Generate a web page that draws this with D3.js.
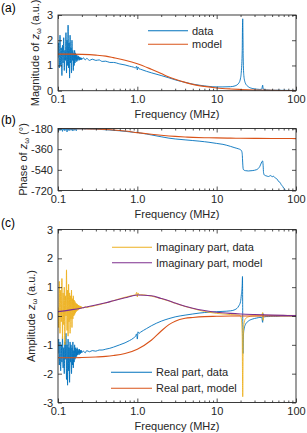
<!DOCTYPE html>
<html><head><meta charset="utf-8">
<script src="https://cdn.jsdelivr.net/npm/d3@7"></script>
<style>body{margin:0;background:#fff} svg{display:block;font-family:Arial,"Liberation Sans",sans-serif}</style>
</head><body><svg id="c" width="307" height="433"></svg>
<script>
// ---------------- DATA ----------------
const xTickValues = [0.1, 1, 10, 100];
const xTickLabels = ["0.1", "1.0", "10", "100"];
const xMinorTicks = [0.2,0.3,0.4,0.5,0.6,0.7,0.8,0.9, 2,3,4,5,6,7,8,9, 20,30,40,50,60,70,80,90];

const magTicks = [0, 1, 2, 3];
const magTickLabels = ["0", "1", "2", "3"];
const phaseTicks = [-720, -540, -360, -180];
const phaseTickLabels = ["-720", "-540", "-360", "-180"];
const ampTicks = [-3, -2, -1, 0, 1, 2, 3];
const ampTickLabels = ["-3", "-2", "-1", "0", "1", "2", "3"];

// noisy low-frequency region of the measured data (MHz)
const noiseFreq = [
 0.100,0.102,0.104,0.106,0.108,0.110,0.112,0.114,0.116,0.118,
 0.120,0.122,0.124,0.126,0.128,0.130,0.132,0.134,0.136,0.138,
 0.140,0.142,0.144,0.146,0.148,0.150,0.152,0.154,0.156,0.158,
 0.160,0.162,0.164,0.166,0.168,0.170,0.172,0.174,0.176,0.178,
 0.180,0.182,0.184,0.186,0.188,0.190,0.192,0.194,0.196,0.198,
 0.200];
const magNoise = [
 1.3,1.9,0.9,2.2,1.0,1.7,0.6,1.8,1.1,2.1,
 0.8,1.6,1.2,2.3,0.7,2.0,1.0,2.6,0.9,1.9,
 0.5,2.2,1.1,1.7,0.7,2.0,1.2,1.6,0.8,1.5,
 1.0,1.6,1.1,1.5,1.2,1.45,1.15,1.4,1.2,1.35,
 1.25,1.38,1.2,1.33,1.22,1.32,1.24,1.3,1.22,1.3,
 1.25];
const phaseNoise = [
 -184,-192,-183,-198,-185,-190,-183,-205,-186,-193,
 -184,-200,-185,-191,-183,-210,-186,-194,-184,-199,
 -185,-190,-183,-196,-185,-192,-184,-202,-186,-190,
 -184,-195,-185,-189,-183,-200,-185,-187,-184,-186,
 -184,-185,-184,-185,-184,-185,-184,-185,-184,-184,
 -184];
const realNoise = [
 -1.3,-0.8,-1.7,-0.9,-1.9,-1.0,-1.6,-0.7,-1.8,-1.1,
 -2.0,-0.9,-1.5,-0.6,-2.2,-1.0,-2.4,-0.8,-1.9,-1.1,
 -2.3,-0.9,-1.6,-1.0,-2.0,-1.1,-1.7,-0.9,-1.8,-1.2,
 -1.6,-1.0,-1.5,-1.1,-1.45,-1.15,-1.4,-1.1,-1.35,-1.15,
 -1.3,-1.2,-1.35,-1.15,-1.3,-1.2,-1.3,-1.18,-1.28,-1.2,
 -1.26];
const imagNoise = [
 0.3,-0.4,1.2,-0.6,0.9,-0.2,1.3,-0.8,0.8,-0.3,
 1.0,-1.0,0.7,0.0,1.6,-0.5,0.9,-0.7,1.1,-0.2,
 0.8,-0.6,0.7,-0.1,0.9,-0.4,0.6,-0.1,0.7,0.0,
 0.55,0.05,0.5,0.1,0.45,0.15,0.42,0.18,0.4,0.2,
 0.38,0.22,0.36,0.24,0.35,0.26,0.34,0.26,0.33,0.27,
 0.3];

// measured data above the noisy region (MHz)
const dataFreq = [
 0.21,0.22,0.23,0.25,0.27,0.3,0.33,0.36,0.4,0.45,
 0.5,0.6,0.7,0.8,0.9,0.95,0.98,1.0,1.02,1.05,
 1.1,1.3,1.5,2,2.5,3,4,5,6,7,
 8,10,12,15,17,19,20,20.5,21,21.15,
 21.3,21.45,21.6,22,23,25,28,32,35,37,
 38,38.5,39,40,42,45,48,50,52,55,
 58,60,63,65,68,70,73,75,80,90,
 100];
const magData = [
 1.3,1.22,1.28,1.2,1.25,1.2,1.22,1.16,1.17,1.12,
 1.12,1.06,1.02,0.97,0.93,0.9,0.97,0.82,0.94,0.87,
 0.85,0.77,0.71,0.6,0.51,0.43,0.33,0.26,0.22,0.19,
 0.17,0.15,0.15,0.16,0.19,0.3,0.5,0.8,1.6,2.5,
 2.85,2.2,1.3,0.6,0.3,0.16,0.09,0.06,0.05,0.06,
 0.22,0.1,0.05,0.04,0.03,0.03,0.02,0.02,0.02,0.02,
 0.02,0.02,0.02,0.015,0.015,0.015,0.015,0.015,0.01,0.01,
 0.01];
const phaseData = [
 -184,-186,-184,-185,-186,-186,-188,-189,-191,-193,
 -196,-200,-205,-209,-213,-215,-212,-220,-214,-218,
 -220,-228,-236,-252,-264,-271,-279,-285,-290,-295,
 -300,-310,-318,-336,-348,-358,-365,-372,-400,-440,
 -480,-515,-532,-542,-547,-550,-547,-538,-510,-472,
 -462,-500,-565,-586,-592,-598,-590,-600,-596,-612,
 -622,-640,-650,-668,-685,-700,-712,-728,-760,-800,
 -850];
const realData = [
 -1.22,-1.28,-1.2,-1.24,-1.2,-1.22,-1.18,-1.18,-1.15,-1.12,
 -1.08,-1.0,-0.93,-0.85,-0.76,-0.7,-0.62,-0.8,-0.55,-0.6,
 -0.56,-0.44,-0.34,-0.18,-0.09,-0.03,0.03,0.07,0.1,0.12,
 0.13,0.15,0.16,0.18,0.22,0.35,0.5,0.75,1.1,1.37,
 0.0,-1.3,-0.9,-0.5,-0.3,-0.18,-0.11,-0.07,-0.05,-0.05,
 -0.22,0.08,-0.04,-0.03,-0.02,-0.02,-0.01,-0.01,-0.01,-0.01,
 -0.01,-0.01,0,0,0,0,0,0,0,0,
 0];
const imagData = [
 0.28,0.33,0.29,0.32,0.33,0.37,0.39,0.42,0.45,0.49,
 0.53,0.6,0.65,0.69,0.72,0.73,0.82,0.66,0.8,0.73,
 0.74,0.72,0.69,0.6,0.52,0.44,0.33,0.26,0.2,0.16,
 0.13,0.09,0.07,0.05,0.04,0.03,0.0,-0.1,-0.7,-1.9,
 -2.8,-1.9,-0.8,-0.3,-0.1,-0.03,0.0,0.01,0.01,0.02,
 0.12,-0.15,0.02,0.02,0.02,0.02,0.02,0.02,0.02,0.02,
 0.02,0.02,0.02,0.02,0.02,0.02,0.02,0.02,0.02,0.02,
 0.02];

// model curves (MHz)
const modelFreq = [0.1,0.15,0.2,0.3,0.4,0.5,0.7,1,1.5,2,2.5,3,4,5,7,10,15,20,30,50,70,100];
const magModel  = [1.45,1.45,1.44,1.41,1.37,1.31,1.21,1.07,0.85,0.68,0.54,0.45,0.33,0.25,0.17,0.11,0.07,0.05,0.03,0.015,0.01,0.005];
const phaseModel= [-180,-181,-182,-185,-189,-193,-202,-216,-230,-239,-245,-249,-254,-257,-260,-262,-264,-265,-266,-267,-267,-268];
const realModel = [-1.45,-1.45,-1.44,-1.42,-1.40,-1.37,-1.30,-1.15,-0.84,-0.52,-0.30,-0.18,-0.08,-0.05,-0.02,-0.01,0,0,0,0,0,0];
const imagModel = [0.15,0.22,0.28,0.38,0.46,0.53,0.63,0.73,0.70,0.61,0.53,0.45,0.34,0.27,0.19,0.13,0.09,0.07,0.05,0.03,0.02,0.015];

// ---------------- DRAWING ----------------
const C = {blue:"#0072BD", orange:"#D95319", yellow:"#EDB120", purple:"#7E2F8E", axis:"#262626"};
const svg = d3.select("#c");
const L = 58, R = 296;
const x = d3.scaleLog().domain([0.1, 100]).range([L, R]);

function pts(fs, vs){ return fs.map((f,i)=>[f, vs[i]]); }
const magSeries   = pts(noiseFreq, magNoise).concat(pts(dataFreq, magData));
const phaseSeries = pts(noiseFreq, phaseNoise).concat(pts(dataFreq, phaseData));
const realSeries  = pts(noiseFreq, realNoise).concat(pts(dataFreq, realData));
const imagSeries  = pts(noiseFreq, imagNoise).concat(pts(dataFreq, imagData));

function panel(cfg){
  const y = d3.scaleLinear().domain(cfg.domain).range([cfg.bottom, cfg.top]);
  const g = svg.append("g");
  const id = "clip" + cfg.tag;
  svg.append("clipPath").attr("id", id).append("rect")
    .attr("x", L).attr("y", cfg.top).attr("width", R-L).attr("height", cfg.bottom-cfg.top);
  const plot = g.append("g").attr("clip-path", `url(#${id})`);
  const line = d3.line().x(d=>x(d[0])).y(d=>y(d[1])).curve(d3.curveMonotoneX);
  cfg.series.forEach(s=>{
    plot.append("path").attr("d", line(s.data)).attr("fill","none")
      .attr("stroke", s.color).attr("stroke-width", s.w).attr("stroke-linejoin","round");
  });
  // axes
  const styleAx = sel => { sel.select(".domain").remove(); sel.selectAll("line").attr("stroke", C.axis).attr("stroke-width",0.8);
    sel.selectAll("text").attr("fill", C.axis).attr("font-size", 11).attr("font-family","Arial, 'Liberation Sans', sans-serif"); };
  g.append("g").attr("transform",`translate(0,${cfg.bottom})`)
    .call(d3.axisBottom(x).tickValues(xTickValues).tickFormat((d,i)=>xTickLabels[i]).tickSizeInner(-4).tickSizeOuter(0).tickPadding(4.5)).call(styleAx);
  g.append("g").attr("transform",`translate(0,${cfg.bottom})`)
    .call(d3.axisBottom(x).tickValues(xMinorTicks).tickFormat("").tickSizeInner(-2).tickSizeOuter(0)).call(styleAx);
  g.append("g").attr("transform",`translate(0,${cfg.top})`)
    .call(d3.axisTop(x).tickValues(xTickValues).tickFormat("").tickSizeInner(-4).tickSizeOuter(0)).call(styleAx);
  g.append("g").attr("transform",`translate(0,${cfg.top})`)
    .call(d3.axisTop(x).tickValues(xMinorTicks).tickFormat("").tickSizeInner(-2).tickSizeOuter(0)).call(styleAx);
  g.append("g").attr("transform",`translate(${L},0)`)
    .call(d3.axisLeft(y).tickValues(cfg.ticks).tickFormat((d,i)=>cfg.tickLabels[i]).tickSizeInner(-4).tickSizeOuter(0).tickPadding(5)).call(styleAx);
  g.append("g").attr("transform",`translate(${R},0)`)
    .call(d3.axisRight(y).tickValues(cfg.ticks).tickFormat("").tickSizeInner(-4).tickSizeOuter(0)).call(styleAx);
  g.append("rect").attr("x", L).attr("y", cfg.top).attr("width", R-L).attr("height", cfg.bottom-cfg.top)
    .attr("fill","none").attr("stroke", C.axis).attr("stroke-width", 0.9);
  // x label
  g.append("text").attr("x", (L+R)/2).attr("y", cfg.bottom+27).attr("text-anchor","middle")
    .attr("font-size", 11).attr("fill", C.axis).text("Frequency (MHz)");
  // y label
  const yl = g.append("text").attr("transform", `translate(${cfg.ylx},${(cfg.top+cfg.bottom)/2}) rotate(-90)`)
    .attr("text-anchor","middle").attr("dy","0.35em").attr("font-size", 11).attr("fill", C.axis);
  yl.append("tspan").text(cfg.yl[0]);
  yl.append("tspan").attr("font-style","italic").text("z");
  yl.append("tspan").attr("font-size", 7.5).attr("dy", 2.5).text("ω");
  yl.append("tspan").attr("dy", -2.5).text(cfg.yl[1]);
  // panel tag
  svg.append("text").attr("x", 1).attr("y", cfg.tagY).attr("font-size", 12).attr("fill","#000").text(`(${cfg.tag})`);
  // legend
  cfg.legend.forEach(l=>{
    g.append("line").attr("x1", l.x1).attr("x2", l.x2).attr("y1", l.y).attr("y2", l.y)
      .attr("stroke", l.color).attr("stroke-width", 1.1);
    g.append("text").attr("x", l.x2+4).attr("y", l.y).attr("dy","0.35em").attr("font-size", 11)
      .attr("fill", C.axis).text(l.text);
  });
}

panel({tag:"a", tagY:11.5, top:15, bottom:90.7, domain:[0,3], ticks:magTicks, tickLabels:magTickLabels,
  ylx:35, yl:["Magnitude of ", " (a.u.)"],
  series:[{data:magSeries, color:C.blue, w:0.9},{data:pts(modelFreq, magModel), color:C.orange, w:1.1}],
  legend:[{x1:148,x2:188,y:30.7,color:C.blue,text:"data"},{x1:148,x2:188,y:44.3,color:C.orange,text:"model"}]});

panel({tag:"b", tagY:124, top:128.5, bottom:190.5, domain:[-720,-180], ticks:phaseTicks, tickLabels:phaseTickLabels,
  ylx:23, yl:["Phase of ", " (°)"],
  series:[{data:phaseSeries, color:C.blue, w:0.9},{data:pts(modelFreq, phaseModel), color:C.orange, w:1.1}],
  legend:[]});

panel({tag:"c", tagY:227, top:229.5, bottom:402.5, domain:[-3,3], ticks:ampTicks, tickLabels:ampTickLabels,
  ylx:31, yl:["Amplitude ", " (a.u.)"],
  series:[{data:realSeries, color:C.blue, w:0.9},{data:imagSeries, color:C.yellow, w:0.9},
          {data:pts(modelFreq, realModel), color:C.orange, w:1.1},{data:pts(modelFreq, imagModel), color:C.purple, w:1.1}],
  legend:[{x1:112,x2:152,y:247.3,color:C.yellow,text:"Imaginary part, data"},
          {x1:112,x2:152,y:262.7,color:C.purple,text:"Imaginary part, model"},
          {x1:111,x2:152,y:372.3,color:C.blue,text:"Real part, data"},
          {x1:111,x2:152,y:388.3,color:C.orange,text:"Real part, model"}]});
</script></body></html>
